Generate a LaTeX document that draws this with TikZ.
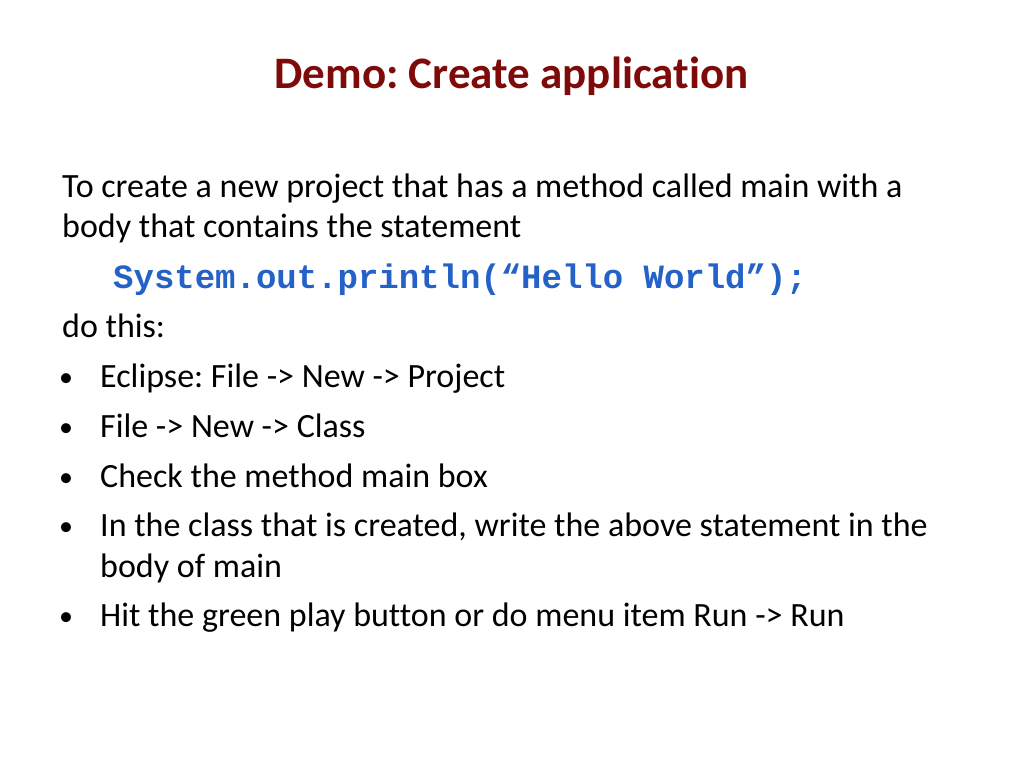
\documentclass[tikz,border=0pt]{standalone}
\usepackage{fontspec}
\setmainfont{Carlito}[Ligatures=NoCommon]
\newfontfamily\codefont{Liberation Mono}
\definecolor{titlered}{HTML}{7E0A0A}
\definecolor{codeblue}{HTML}{2462C8}
\frenchspacing
\begin{document}
\frenchspacing
\begin{tikzpicture}[x=1pt,y=-1pt]
\useasboundingbox[fill=white] (0,0) rectangle (1024,768);
\tikzset{
  body/.style={anchor=base west, inner sep=0pt, font=\fontsize{34}{40}\selectfont, text=black},
  bul/.style={anchor=base, inner sep=0pt, font=\fontsize{28}{34}\selectfont, text=black},
  titletext/.style={anchor=base, inner sep=0pt, font=\fontsize{45}{54}\selectfont\bfseries, text=titlered},
  codetext/.style={anchor=base west, inner sep=0pt, font=\fontsize{34}{40}\selectfont\codefont\bfseries, text=codeblue}
}
\node[titletext] (title) at (511.5,88) {Demo: Create application};
\node[body] (l1) at (62,197) {To create a new project that has a method called main with a};
\node[body] (l2) at (62,237) {body that contains the statement};
\node[codetext] (code) at (113,288) {System.out.println(“Hello World”);};
\node[body] (l3) at (62,337) {do this:};
\node[bul] (b1) at (66,386) {•};
\node[body] (t1) at (100,387) {Eclipse: File -> New -> Project};
\node[bul] (b2) at (66,436) {•};
\node[body] (t2) at (100,437) {File -> New -> Class};
\node[bul] (b3) at (66,486) {•};
\node[body] (t3) at (100,487) {Check the method main box};
\node[bul] (b4) at (66,535) {•};
\node[body] (t4) at (100,536) {In the class that is created, write the above statement in the};
\node[body] (t4b) at (100,577) {body of main};
\node[bul] (b5) at (66,625) {•};
\node[body] (t5) at (100,626) {Hit the green play button or do menu item Run -> Run};
\end{tikzpicture}
\end{document}
